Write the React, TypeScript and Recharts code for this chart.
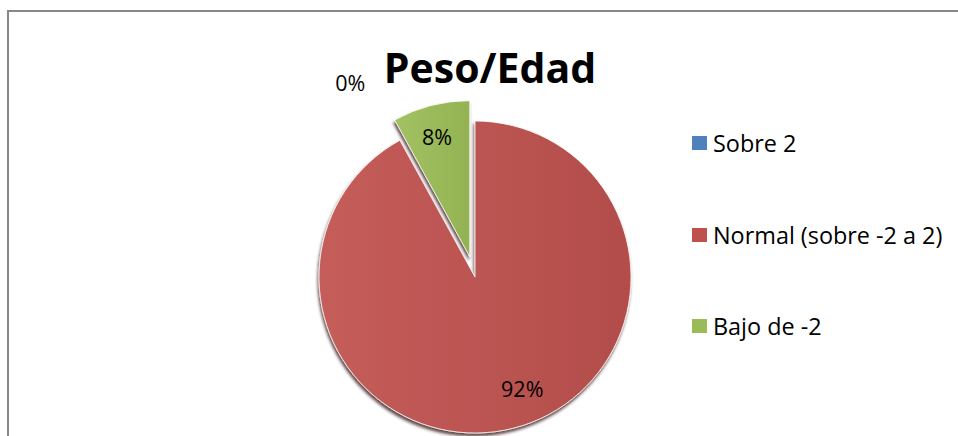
import React from 'react';
import { PieChart, Pie, Cell, Legend } from 'recharts';

const CATEGORIES = ['Sobre 2', 'Normal (sobre -2 a 2)', 'Bajo de -2'];
const VALUES = [0, 92, 8];
const COLORS = ['#4F81BD', '#C0504D', '#9BBB59'];
const GRAD_LIGHT = ['#5A8ACB', '#C55D5A', '#A3C263'];
const GRAD_DARK = ['#4677B3', '#B24D4A', '#93B252'];
const TITLE = 'Peso/Edad';
const EXPLODED = [false, false, true];

const W = 958;
const H = 436;
const CX = 475;
const CY = 277;
const R = 156;
const EXPLODE_DIST = 21;
const FONT = '"Open Sans", "Noto Sans", sans-serif';

// label placement tweaks (radius fraction, angle delta) per slice
const LABEL_POS = [
  { r: 1.48, da: 32.7 },
  { r: 0.775, da: 8.6 },
  { r: 0.8, da: 0.8 },
];

const data = CATEGORIES.map((name, i) => ({ name, value: VALUES[i] }));
const total = VALUES.reduce((a, b) => a + b, 0);

const RAD = Math.PI / 180;

function explodeOffset(idx: number) {
  const before = VALUES.slice(0, idx).reduce((a, b) => a + b, 0);
  const mid = 90 - (360 * (before + VALUES[idx] / 2)) / total;
  return { dx: Math.cos(mid * RAD) * EXPLODE_DIST, dy: -Math.sin(mid * RAD) * EXPLODE_DIST };
}

const explodedIdx = EXPLODED.indexOf(true);
const off = explodeOffset(explodedIdx);

const makeLabel = (show: (i: number) => boolean) => (props: any) => {
  const { cx, cy, midAngle, outerRadius, index, percent } = props;
  if (!show(index)) return null;
  const p = LABEL_POS[index];
  const a = (midAngle + p.da) * RAD;
  const x = cx + Math.cos(a) * outerRadius * p.r;
  const y = cy - Math.sin(a) * outerRadius * p.r;
  return (
    <text
      key={`lbl-${index}`}
      x={x}
      y={y}
      textAnchor="middle"
      dominantBaseline="central"
      fill="#000"
      fontFamily={FONT}
      fontSize={21.5}
    >
      {`${Math.round(percent * 100)}%`}
    </text>
  );
};

const LegendContent = () => (
  <div style={{ fontFamily: FONT, fontSize: 23.4, color: '#000' }}>
    {CATEGORIES.map((name, i) => (
      <div
        key={name}
        style={{ display: 'flex', alignItems: 'center', height: 30, marginBottom: i < CATEGORIES.length - 1 ? 61.5 : 0 }}
      >
        <span style={{ display: 'inline-block', width: 15, height: 14, background: COLORS[i], marginRight: 6, flexShrink: 0 }} />
        <span style={{ whiteSpace: 'nowrap' }}>{name}</span>
      </div>
    ))}
  </div>
);

export default function App() {
  return (
    <div style={{ position: 'absolute', left: 0, top: 0, width: W, height: H, background: '#fff' }}>
      <PieChart width={W} height={H} margin={{ top: 0, right: 0, bottom: 0, left: 0 }}>
        <defs>
          {COLORS.map((c, i) => (
            <linearGradient key={c} id={`grad${i}`} x1="0" y1="0" x2="1" y2="0">
              <stop offset="0%" stopColor={GRAD_LIGHT[i]} />
              <stop offset="100%" stopColor={GRAD_DARK[i]} />
            </linearGradient>
          ))}
          <filter id="shadow" x="-20%" y="-20%" width="140%" height="140%">
            <feDropShadow dx="-1" dy="3" stdDeviation="1.5" floodColor="#3a1a18" floodOpacity="0.8" />
          </filter>
        </defs>
        <rect x={8} y={11} width={W + 20} height={H + 20} fill="none" stroke="#888888" strokeWidth={2} />
        <text
          x={490}
          y={83}
          textAnchor="middle"
          fontFamily={FONT}
          fontWeight="bold"
          fontSize={41}
          fill="#000"
        >
          {TITLE}
        </text>
        <Pie
          data={data}
          dataKey="value"
          nameKey="name"
          cx={CX}
          cy={CY}
          outerRadius={R}
          startAngle={90}
          endAngle={-270}
          isAnimationActive={false}
          labelLine={false}
          label={makeLabel((i) => !EXPLODED[i])}
          stroke="none"
        >
          {data.map((d, i) => (
            <Cell
              key={d.name}
              fill={EXPLODED[i] ? 'transparent' : `url(#grad${i})`}
              stroke={EXPLODED[i] ? 'none' : '#ffffff'}
              strokeWidth={0.8}
              filter={EXPLODED[i] ? undefined : 'url(#shadow)'}
            />
          ))}
        </Pie>
        <Pie
          data={data}
          dataKey="value"
          nameKey="name"
          cx={CX + off.dx}
          cy={CY + off.dy}
          outerRadius={R}
          startAngle={90}
          endAngle={-270}
          isAnimationActive={false}
          labelLine={false}
          label={makeLabel((i) => EXPLODED[i])}
          legendType="none"
          stroke="none"
        >
          {data.map((d, i) => (
            <Cell
              key={d.name}
              fill={EXPLODED[i] ? `url(#grad${i})` : 'transparent'}
              stroke={EXPLODED[i] ? '#ffffff' : 'none'}
              strokeWidth={0.8}
              filter={EXPLODED[i] ? 'url(#shadow)' : undefined}
            />
          ))}
        </Pie>
        <Legend
          layout="vertical"
          align="right"
          verticalAlign="middle"
          content={<LegendContent />}
          wrapperStyle={{ left: 692, top: 128, width: 266, right: 'auto' }}
        />
      </PieChart>
    </div>
  );
}
